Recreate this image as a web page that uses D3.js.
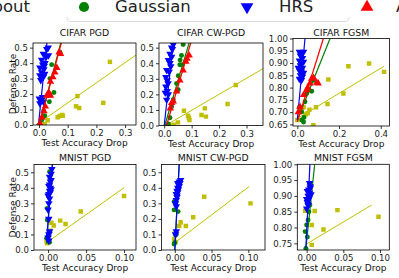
<!DOCTYPE html>
<html>
<head>
<meta charset="utf-8">
<script src="https://cdn.jsdelivr.net/npm/d3@7"></script>
<style>
  body { margin: 0; background: #fff; }
  svg { display: block; font-family: "DejaVu Sans", sans-serif; }
</style>
</head>
<body>
<svg id="c" width="399" height="278"></svg>
<script>
// legend labels (the picture is cropped, so only part of the first and last show)
const seriesNames = ['bout', 'Gaussian', 'HRS', 'Adversarial'];
const panelTitles = ['CIFAR PGD', 'CIFAR CW-PGD', 'CIFAR FGSM', 'MNIST PGD', 'MNIST CW-PGD', 'MNIST FGSM'];

// tick values
const ticksRate = [0.0, 0.1, 0.2, 0.3, 0.4, 0.5];
const ticksCifarDrop = [0.0, 0.1, 0.2, 0.3];
const ticksCifarFgsmY = [0.65, 0.70, 0.75, 0.80, 0.85, 0.90, 0.95, 1.00];
const ticksCifarFgsmX = [0.0, 0.2, 0.4];
const ticksMnistDrop = [0.00, 0.05, 0.10];
const ticksMnistFgsmY = [0.75, 0.80, 0.85, 0.90, 0.95, 1.00];

// CIFAR PGD  [accuracy drop, defense rate]
const cifarPgdDropout = [[0.005,0.0],[0.02,0.005],[0.03,0.03],[0.065,0.05],[0.072,0.058],[0.08,0.065],[0.083,0.06],[0.129,0.121],[0.14,0.11],[0.134,0.187],[0.224,0.143],[0.247,0.408]];
const cifarPgdGauss = [[0.073,0.47],[0.044,0.39],[0.038,0.30],[0.052,0.21],[0.036,0.15],[0.016,0.09],[0.02,0.06],[0.009,0.03],[0.0,0.0]];
const cifarPgdHrs = [[0.027,0.49],[0.032,0.50],[0.015,0.46],[0.033,0.45],[0.025,0.44],[0.009,0.42],[0.021,0.40],[0.013,0.39],[0.018,0.38],[0.003,0.37],[0.017,0.36],[0.009,0.34],[0.02,0.33],[0.003,0.32],[0.015,0.31],[0.006,0.29],[0.001,0.17],[0.009,0.16],[0.015,0.15],[0.003,0.14],[0.012,0.18]];
const cifarPgdAdv = [[0.07,0.47],[0.075,0.46],[0.062,0.37],[0.055,0.34],[0.048,0.31],[0.04,0.28],[0.034,0.21],[0.04,0.19],[0.027,0.19],[0.022,0.12],[0.017,0.09],[0.01,0.05],[0.003,0.01]];
const cifarPgdFits = [[[-0.01,0],[0.34,0.455]], [[0.0,0],[0.08,0.56]], [[-0.002,0],[0.029,0.56]], [[0.001,0],[0.082,0.56]]];

// CIFAR CW-PGD
const cifarCwDropout = [[0.02,0.0],[0.035,0.005],[0.05,0.02],[0.072,0.095],[0.087,0.062],[0.09,0.05],[0.092,0.035],[0.136,0.068],[0.148,0.11],[0.152,0.057],[0.231,0.138],[0.261,0.26]];
const cifarCwGauss = [[0.069,0.52],[0.063,0.45],[0.058,0.42],[0.057,0.39],[0.066,0.39],[0.051,0.32],[0.045,0.27],[0.051,0.23],[0.033,0.165],[0.027,0.12],[0.021,0.05],[0.009,0.0],[0.015,0.01]];
const cifarCwHrs = [[0.033,0.52],[0.03,0.49],[0.027,0.50],[0.021,0.46],[0.027,0.44],[0.015,0.42],[0.021,0.40],[0.024,0.38],[0.009,0.355],[0.018,0.345],[0.006,0.31],[0.011,0.29],[0.014,0.27],[0.006,0.25],[0.011,0.22],[0.015,0.20],[0.009,0.165],[0.004,0.21]];
const cifarCwAdv = [[0.091,0.45],[0.083,0.43],[0.079,0.41],[0.069,0.355],[0.057,0.29],[0.045,0.22],[0.033,0.155],[0.027,0.145],[0.022,0.11]];
const cifarCwFits = [[[0.005,0],[0.36,0.365]], [[0.002,0],[0.094,0.55]], [[0.0,0],[0.034,0.55]], [[0.0085,0],[0.1,0.55]]];

// CIFAR FGSM
const cifarFgsmDropout = [[0.0,0.668],[0.01,0.70],[0.02,0.71],[0.03,0.72],[0.04,0.69],[0.05,0.695],[0.058,0.71],[0.09,0.72],[0.077,0.647],[0.145,0.733],[0.221,0.776],[0.149,0.833],[0.245,0.887],[0.344,0.898],[0.416,0.864]];
const cifarFgsmGauss = [[0.077,0.83],[0.069,0.785],[0.045,0.776],[0.055,0.79],[0.037,0.742],[0.021,0.701],[0.032,0.678],[0.021,0.668],[0.03,0.66],[0.01,0.72]];
const cifarFgsmHrs = [[0.01,0.945],[0.02,0.94],[0.03,0.945],[0.015,0.93],[0.025,0.92],[0.01,0.91],[0.02,0.90],[0.03,0.905],[0.015,0.89],[0.005,0.88],[0.025,0.88],[0.01,0.87],[0.02,0.865],[0.03,0.86],[0.015,0.85],[0.025,0.845],[0.01,0.835],[0.02,0.83]];
const cifarFgsmAdv = [[0.069,0.837],[0.061,0.817],[0.093,0.82],[0.1,0.817],[0.078,0.84],[0.045,0.79],[0.05,0.80],[0.03,0.77],[0.013,0.722],[0.005,0.70]];
const cifarFgsmFits = [[[0,0.674],[0.416,0.887]], [[0,0.668],[0.157,1.0]], [[0,0.668],[0.037,1.0]], [[0,0.661],[0.125,1.0]]];

// MNIST PGD
const mnistPgdDropout = [[0.1,0.348],[0.043,0.247],[0.016,0.189],[0.023,0.167],[0.0075,0.157],[0.0044,0.176],[0.003,0.124],[0.0013,0.097],[0.0,0.069],[-0.0013,0.043],[-0.002,0.054]];
const mnistPgdGauss = [[0.002,0.504],[-0.001,0.268],[-0.001,0.193],[-0.002,0.075],[0.0,0.07],[0.002,0.05],[0.0,0.09]];
const mnistPgdHrs = [[0.001,0.06],[0.0,0.08],[0.001,0.1],[0.002,0.12],[0.001,0.2],[0.0,0.26],[0.001,0.3],[0.002,0.33],[0.0,0.35],[0.001,0.36],[0.002,0.38],[0.003,0.40],[0.001,0.41],[0.002,0.42],[0.003,0.44],[0.004,0.45],[0.002,0.47],[0.004,0.49],[0.005,0.52],[0.003,0.37],[0.004,0.39]];
const mnistPgdAdv = [];
const mnistPgdFits = [[[0,0.054],[0.1,0.401]], [[-0.002,0.04],[0.006,0.56]], [[-0.002,0.054],[0.0057,0.558]], null];

// MNIST CW-PGD
const mnistCwDropout = [[0.04,0.343],[0.103,0.30],[0.025,0.21],[0.008,0.178],[0.006,0.155],[0.015,0.155],[0.0,0.107],[-0.001,0.069],[0.001,0.052]];
const mnistCwGauss = [[-0.001,0.311],[-0.001,0.258],[0.0045,0.247],[0.001,0.097],[0.0,0.047],[-0.001,0.039],[0.002,0.1]];
const mnistCwHrs = [[0.001,0.1],[0.002,0.12],[0.001,0.3],[0.002,0.32],[0.003,0.34],[0.002,0.36],[0.004,0.37],[0.003,0.38],[0.005,0.39],[0.004,0.40],[0.006,0.41],[0.005,0.42],[0.007,0.43],[0.006,0.44],[0.008,0.45],[0.004,0.43],[0.003,0.35],[0.002,0.28]];
const mnistCwAdv = [];
const mnistCwFits = [[[0.002,0.054],[0.101,0.408]], [[0,0.0],[0.006,0.55]], [[0,0],[0.006,0.558]], null];

// MNIST FGSM
const mnistFgsmDropout = [[0.098,0.834],[0.042,0.855],[0.011,0.852],[-0.002,0.853],[0.023,0.794],[0.007,0.808],[0.007,0.745]];
const mnistFgsmGauss = [[-0.001,0.734],[-0.002,0.787],[0.0,0.808],[0.002,0.824],[0.0045,0.871],[0.004,0.94],[0.001,0.77],[0.003,0.85]];
const mnistFgsmHrs = [[0.0,0.86],[0.002,0.87],[0.001,0.88],[0.003,0.89],[0.002,0.90],[0.004,0.91],[0.003,0.92],[0.005,0.93],[0.004,0.94],[0.002,0.875],[0.004,0.895],[0.006,0.905],[0.001,0.915],[0.003,0.9],[0.005,0.925],[0.0,0.89]];
const mnistFgsmAdv = [];
const mnistFgsmFits = [[[0,0.748],[0.0886,0.871]], [[-0.001,0.734],[0.011,1.0]], [[-0.001,0.734],[0.0045,1.0]], null];

const colors = ['#bfbf00', '#008000', '#0000ff', '#ff0000'];
const shapes = ['square', 'circle', 'down', 'up'];

// layout for each subplot: [left, top, right, bottom] in px
const panels = [
  { box: [33, 43, 136, 125], xd: [-0.021, 0.338], yd: [0, 0.53], xt: ticksCifarDrop, yt: ticksRate, xf: '.1f', yf: '.1f',
    series: [cifarPgdDropout, cifarPgdGauss, cifarPgdHrs, cifarPgdAdv], fits: cifarPgdFits },
  { box: [159, 43, 263, 125.5], xd: [-0.019, 0.36], yd: [0, 0.53], xt: ticksCifarDrop, yt: ticksRate, xf: '.1f', yf: '.1f',
    series: [cifarCwDropout, cifarCwGauss, cifarCwHrs, cifarCwAdv], fits: cifarCwFits },
  { box: [293, 38.5, 389.5, 126], xd: [-0.0206, 0.442], yd: [0.6435, 1.0], xt: ticksCifarFgsmX, yt: ticksCifarFgsmY, xf: '.1f', yf: '.2f',
    series: [cifarFgsmDropout, cifarFgsmGauss, cifarFgsmHrs, cifarFgsmAdv], fits: cifarFgsmFits },
  { box: [34, 164.5, 136, 250], xd: [-0.0185, 0.1157], yd: [0, 0.55], xt: ticksMnistDrop, yt: ticksRate, xf: '.2f', yf: '.1f',
    series: [mnistPgdDropout, mnistPgdGauss, mnistPgdHrs, mnistPgdAdv], fits: mnistPgdFits },
  { box: [161.5, 164.5, 265, 250], xd: [-0.0181, 0.1227], yd: [0, 0.55], xt: ticksMnistDrop, yt: ticksRate, xf: '.2f', yf: '.1f',
    series: [mnistCwDropout, mnistCwGauss, mnistCwHrs, mnistCwAdv], fits: mnistCwFits },
  { box: [297.3, 164.3, 389.3, 250], xd: [-0.0127, 0.1127], yd: [0.7288, 1.0], xt: ticksMnistDrop, yt: ticksMnistFgsmY, xf: '.2f', yf: '.2f',
    series: [mnistFgsmDropout, mnistFgsmGauss, mnistFgsmHrs, mnistFgsmAdv], fits: mnistFgsmFits }
];

const svg = d3.select('#c');

function markerPath(kind) {
  if (kind === 'square') return d3.symbol(d3.symbolSquare, 20)();
  if (kind === 'circle') return d3.symbol(d3.symbolCircle, 19)();
  return d3.symbol(d3.symbolTriangle, 24)();
}

function drawMarker(g, kind, x, y, color) {
  g.append('path')
    .attr('d', markerPath(kind))
    .attr('transform', 'translate(' + x + ',' + y + ')' + (kind === 'down' ? ' rotate(180)' : ''))
    .attr('fill', color);
}

panels.forEach(function (p, i) {
  const [x0, y0, x1, y1] = p.box;
  const x = d3.scaleLinear().domain(p.xd).range([x0, x1]);
  const y = d3.scaleLinear().domain(p.yd).range([y1, y0]);

  const clipId = 'clip' + i;
  svg.append('clipPath').attr('id', clipId)
    .append('rect').attr('x', x0).attr('y', y0).attr('width', x1 - x0).attr('height', y1 - y0);

  const plot = svg.append('g').attr('clip-path', 'url(#' + clipId + ')');

  p.series.forEach(function (pts, s) {
    pts.forEach(function (d) { drawMarker(plot, shapes[s], x(d[0]), y(d[1]), colors[s]); });
    const fit = p.fits[s];
    if (fit) {
      plot.append('path')
        .attr('d', d3.line().x(d => x(d[0])).y(d => y(d[1]))(fit))
        .attr('fill', 'none')
        .attr('stroke', colors[s])
        .attr('stroke-width', s === 0 ? 1 : 1.2);
    }
  });

  const xa = svg.append('g').attr('transform', 'translate(0,' + y1 + ')')
    .call(d3.axisBottom(x).tickValues(p.xt).tickFormat(d3.format(p.xf)).tickSize(3).tickPadding(2));
  const ya = svg.append('g').attr('transform', 'translate(' + x0 + ',0)')
    .call(d3.axisLeft(y).tickValues(p.yt).tickFormat(d3.format(p.yf)).tickSize(3).tickPadding(2));
  [xa, ya].forEach(function (a) {
    a.select('.domain').remove();
    a.attr('font-family', null).attr('font-size', 8.6);
    a.selectAll('text').attr('fill', '#222');
    a.selectAll('line').attr('stroke', '#000').attr('stroke-width', 0.8);
  });

  svg.append('rect')
    .attr('x', x0).attr('y', y0).attr('width', x1 - x0).attr('height', y1 - y0)
    .attr('fill', 'none').attr('stroke', '#000').attr('stroke-width', 0.8);

  const cx = (x0 + x1) / 2;
  const titleY = i < 3 ? 35.5 : 160.5;
  svg.append('text').attr('x', cx).attr('y', titleY)
    .attr('text-anchor', 'middle').attr('font-size', 9.3).attr('fill', '#111')
    .text(panelTitles[i]);
  svg.append('text').attr('x', cx).attr('y', y1 + 21)
    .attr('text-anchor', 'middle').attr('font-size', 9).attr('fill', '#111')
    .text('Test Accuracy Drop');
  if (i % 3 === 0) {
    svg.append('text')
      .attr('transform', 'translate(16,' + (y0 + y1) / 2 + ') rotate(-90)')
      .attr('text-anchor', 'middle').attr('font-size', 9).attr('fill', '#111')
      .text('Defense Rate');
  }
});

// legend strip along the top edge (cropped in the picture)
const legend = svg.append('g');
legend.append('path')
  .attr('d', 'M67,17 Q67,21.5 71,21.5 L345,21.5 Q349,21.5 349,17')
  .attr('fill', 'none').attr('stroke', '#d0d0d0').attr('stroke-width', 0.8);
const legendItems = [
  { mx: -20, tx: 30, anchor: 'end' },
  { mx: 84, tx: 115, anchor: 'start' },
  { mx: 247, tx: 279, anchor: 'start' },
  { mx: 367, tx: 396, anchor: 'start' }
];
legendItems.forEach(function (it, s) {
  const kind = shapes[s];
  const size = kind === 'circle' ? 80 : 70;
  const sym = kind === 'square' ? d3.symbolSquare : kind === 'circle' ? d3.symbolCircle : d3.symbolTriangle;
  legend.append('path')
    .attr('d', d3.symbol(sym, size)())
    .attr('transform', 'translate(' + it.mx + ',7)' + (kind === 'down' ? ' rotate(180)' : ''))
    .attr('fill', colors[s]);
  legend.append('text').attr('x', it.tx).attr('y', 11.5)
    .attr('text-anchor', it.anchor).attr('font-size', 16.5).attr('fill', '#222')
    .text(seriesNames[s]);
});
</script>
</body>
</html>
